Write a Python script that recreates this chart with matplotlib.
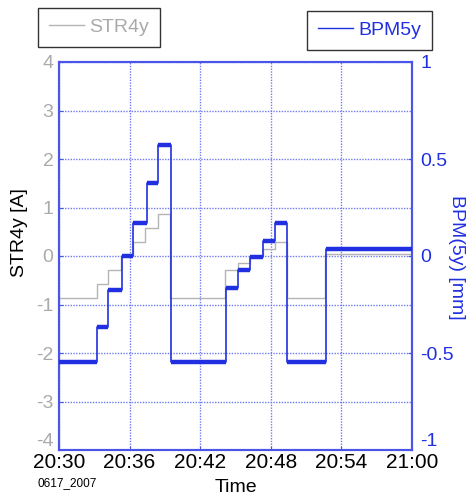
import matplotlib
matplotlib.use("Agg")
import matplotlib.pyplot as plt
from matplotlib.lines import Line2D

plt.rcParams['font.family'] = ['Liberation Sans', 'DejaVu Sans']

# time in minutes after 20:30
str_t = [0, 3.25, 4.2, 5.3, 6.3, 7.35, 8.4, 9.43, 14.15, 15.2, 16.25, 17.3, 18.35, 19.35, 22.6, 30]
str_v = [-0.87, -0.58, -0.29, 0.0, 0.29, 0.58, 0.87, -0.87, -0.29, -0.15, 0.0, 0.15, 0.28, -0.87, 0.05, 0.05]

bpm_t = [0, 3.25, 4.17, 5.38, 6.31, 7.45, 8.44, 9.48, 14.17, 15.24, 16.23, 17.36, 18.36, 19.4, 22.67, 30]
bpm_v = [-0.545, -0.365, -0.175, 0.0, 0.17, 0.375, 0.572, -0.545, -0.167, -0.072, -0.003, 0.079, 0.172, -0.545, 0.035, 0.035]

x_ticks = [0, 6, 12, 18, 24, 30]
x_labels = ["20:30", "20:36", "20:42", "20:48", "20:54", "21:00"]
left_ticks = [-4, -3, -2, -1, 0, 1, 2, 3, 4]
right_ticks = [-1, -0.5, 0, 0.5, 1]
right_labels = ["-1", "-0.5", "0", "0.5", "1"]

BLUE = '#2030e0'
SPINE = '#4a55e8'
GRID = '#6f7cf0'
GRAY = '#b4b4b4'

fig = plt.figure(figsize=(4.66, 4.96), dpi=100)
ax = fig.add_axes([59/466, 1-450/496, (412-59)/466, (450-62)/496])
ax2 = ax.twinx()

ax.plot(str_t, str_v, drawstyle='steps-post', color=GRAY, lw=1.0, zorder=3)
ax2.plot(bpm_t, bpm_v, drawstyle='steps-post', color=BLUE, lw=1.2, zorder=4)
ax2.hlines(bpm_v[:-1], bpm_t[:-1], bpm_t[1:], color=BLUE, lw=3.2, zorder=4)

ax.set_xlim(0, 30)
ax.set_ylim(-4, 4)
ax2.set_ylim(-1, 1)
ax.set_xticks(x_ticks)
ax.set_xticklabels(x_labels, fontsize=15)
ax.set_yticks(left_ticks)
ax.set_yticklabels([str(v) for v in left_ticks], fontsize=14, color='#aaaaaa')
ax2.set_yticks(right_ticks)
ax2.set_yticklabels(right_labels, fontsize=14, color=BLUE)
ax.get_yticklabels()[0].set_va('bottom')
ax2.get_yticklabels()[0].set_va('bottom')

ax.grid(True, color=GRID, linestyle=(0, (1, 1)), lw=1.0)
ax.set_axisbelow(True)
for a in (ax, ax2):
    for s in a.spines.values():
        s.set_color(SPINE)
        s.set_linewidth(1.5)
ax.tick_params(axis='both', direction='in', length=3, color=SPINE, pad=4)
ax2.tick_params(axis='y', direction='in', length=3, color=SPINE, pad=6)
ax.tick_params(axis='x', pad=2)

ax.set_ylabel("STR4y [A]", fontsize=14, color='black')
ax.yaxis.set_label_coords(-0.088, 0.56)
fig.text(457/466, 1-257/496, "BPM(5y) [mm]", fontsize=14, color=BLUE,
         rotation=270, ha='center', va='center')
ax.set_xlabel("Time", fontsize=14, labelpad=5)

fig.text(38/466, 1-486/496, "0617_2007", fontsize=8.5, color='black')

leg1 = fig.legend(handles=[Line2D([], [], color=GRAY, lw=1)], labels=["STR4y"],
                  loc='upper left', bbox_to_anchor=(38/466, 1-8/496), fontsize=14,
                  frameon=True, fancybox=False, handlelength=1.8, handletextpad=0.3,
                  borderpad=0.55, borderaxespad=0)
leg1.get_frame().set_edgecolor('black')
leg1.get_frame().set_linewidth(1.0)
for t in leg1.get_texts():
    t.set_color('#aaaaaa')

leg2 = fig.legend(handles=[Line2D([], [], color=BLUE, lw=1)], labels=["BPM5y"],
                  loc='upper right', bbox_to_anchor=(432/466, 1-11/496), fontsize=14,
                  frameon=True, fancybox=False, handlelength=1.8, handletextpad=0.3,
                  borderpad=0.55, borderaxespad=0)
leg2.get_frame().set_edgecolor('black')
leg2.get_frame().set_linewidth(1.0)
for t in leg2.get_texts():
    t.set_color(BLUE)

fig.savefig("out.png", dpi=100)
